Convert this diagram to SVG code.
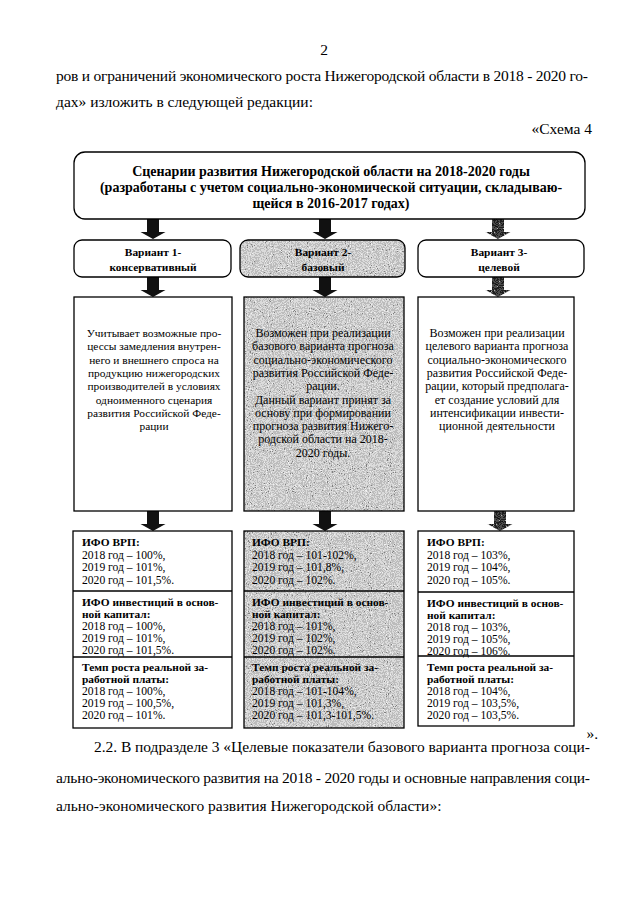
<svg xmlns="http://www.w3.org/2000/svg" width="640" height="905" viewBox="0 0 640 905">
<style>
.pg{font-family:"Liberation Serif","Times New Roman",serif;font-size:15.5px;fill:#000}
.hd{font-family:"Liberation Serif","Times New Roman",serif;font-size:14px;font-weight:bold;fill:#000;text-anchor:middle}
.vt{font-family:"Liberation Serif","Times New Roman",serif;font-size:11.4px;font-weight:bold;fill:#000;text-anchor:middle}
.bt{font-family:"Liberation Serif","Times New Roman",serif;font-size:12px;fill:#000;text-anchor:middle}
.bts{font-family:"Liberation Serif","Times New Roman",serif;font-size:11.4px;fill:#000;text-anchor:middle}
.lt{font-family:"Liberation Serif","Times New Roman",serif;font-size:11.6px;fill:#000}
.lb{font-family:"Liberation Serif","Times New Roman",serif;font-size:11.4px;font-weight:bold;fill:#000}
.box{fill:#fff;stroke:#000;stroke-width:1.3}
.sh{stroke:#000;stroke-width:1.3}
.arr{fill:#111}
</style>
<defs>
<filter id="speckle" x="0" y="0" width="1" height="1" color-interpolation-filters="sRGB">
<feTurbulence type="fractalNoise" baseFrequency="0.95" numOctaves="2" seed="7" result="n"/>
<feColorMatrix in="n" type="saturate" values="0" result="g"/>
<feComponentTransfer in="g" result="d">
<feFuncR type="discrete" tableValues="0.25 0.5 0.74 0.86 0.95 1"/>
<feFuncG type="discrete" tableValues="0.25 0.5 0.74 0.86 0.95 1"/>
<feFuncB type="discrete" tableValues="0.25 0.5 0.74 0.86 0.95 1"/>
<feFuncA type="linear" slope="0" intercept="1"/>
</feComponentTransfer>
<feComposite in="d" in2="SourceGraphic" operator="in"/>
</filter>
<filter id="darkspeckle" x="0" y="0" width="1" height="1" color-interpolation-filters="sRGB">
<feTurbulence type="fractalNoise" baseFrequency="0.95" numOctaves="2" seed="11" result="n"/>
<feColorMatrix in="n" type="saturate" values="0" result="g"/>
<feComponentTransfer in="g" result="d">
<feFuncR type="discrete" tableValues="0 0.05 0.12 0.3 0.7 1"/>
<feFuncG type="discrete" tableValues="0 0.05 0.12 0.3 0.7 1"/>
<feFuncB type="discrete" tableValues="0 0.05 0.12 0.3 0.7 1"/>
<feFuncA type="linear" slope="0" intercept="1"/>
</feComponentTransfer>
<feComposite in="d" in2="SourceGraphic" operator="in"/>
</filter>
<path id="arrow" d="M-6,0 H6 V13 H12.5 L0,20 L-12.5,13 H-6 Z"/>
</defs>

<g id="page-text">
<text class="pg" x="324" y="55" text-anchor="middle">2</text>
<text class="pg" x="56" y="81" textLength="532" lengthAdjust="spacing">ров и ограничений экономического роста Нижегородской области в 2018 - 2020 го-</text>
<text class="pg" x="56" y="107">дах» изложить в следующей редакции:</text>
<text class="pg" x="592" y="134" text-anchor="end">«Схема 4</text>
<text class="pg" x="598" y="739" text-anchor="end">».</text>
<text class="pg" x="94" y="752" textLength="496" lengthAdjust="spacing">2.2. В подразделе 3 «Целевые показатели базового варианта прогноза соци-</text>
<text class="pg" x="56" y="783" textLength="534" lengthAdjust="spacing">ально-экономического развития на 2018 - 2020 годы и основные направления соци-</text>
<text class="pg" x="56" y="811">ально-экономического развития Нижегородской области»:</text>
</g>

<g id="connectors">
<use href="#arrow" class="arr" x="153" y="219"/>
<use href="#arrow" class="arr" x="325" y="219"/>
<use href="#arrow" fill="#fff" filter="url(#darkspeckle)" x="498" y="219"/>
<use href="#arrow" class="arr" x="153" y="277"/>
<use href="#arrow" class="arr" x="325" y="277"/>
<use href="#arrow" fill="#fff" filter="url(#darkspeckle)" x="498" y="277"/>
<use href="#arrow" class="arr" x="153" y="511"/>
<use href="#arrow" class="arr" x="325" y="511"/>
<use href="#arrow" fill="#fff" filter="url(#darkspeckle)" x="500" y="511"/>
</g>

<g id="header">
<rect class="box" x="74" y="152" width="511" height="67" rx="11"/>
<text class="hd" x="331" y="176">Сценарии развития Нижегородской области на 2018-2020 годы</text>
<text class="hd" x="331" y="192">(разработаны с учетом социально-экономической ситуации, складываю-</text>
<text class="hd" x="331" y="208">щейся в 2016-2017 годах)</text>
</g>

<g id="variant1">
<rect class="box" x="74" y="240" width="157" height="37" rx="8"/>
<text class="vt" x="153" y="256">Вариант 1-</text>
<text class="vt" x="153" y="271">консервативный</text>
</g>
<g id="variant2">
<rect x="240" y="240" width="165" height="37" rx="8" fill="#fff" filter="url(#speckle)"/>
<rect x="240" y="240" width="165" height="37" rx="8" fill="none" class="sh"/>
<text class="vt" x="323" y="256">Вариант 2-</text>
<text class="vt" x="323" y="271">базовый</text>
</g>
<g id="variant3">
<rect class="box" x="418" y="240" width="166" height="37" rx="8"/>
<text class="vt" x="499" y="256">Вариант 3-</text>
<text class="vt" x="499" y="271">целевой</text>
</g>

<g id="desc1">
<rect class="box" x="74" y="297" width="158" height="214"/>
<text class="bts" x="154" y="337">Учитывает возможные про-</text>
<text class="bts" x="154" y="350.3">цессы замедления внутрен-</text>
<text class="bts" x="154" y="363.6">него и внешнего спроса на</text>
<text class="bts" x="154" y="376.9">продукцию нижегородских</text>
<text class="bts" x="154" y="390.2">производителей в условиях</text>
<text class="bts" x="154" y="403.5">одноименного сценария</text>
<text class="bts" x="154" y="416.8">развития Российской Феде-</text>
<text class="bts" x="154" y="430.1">рации</text>
</g>
<g id="desc2">
<rect x="244" y="297" width="160" height="214" fill="#fff" filter="url(#speckle)"/>
<rect x="244" y="297" width="160" height="214" fill="none" class="sh"/>
<text class="bt" x="323" y="337">Возможен при реализации</text>
<text class="bt" x="323" y="350.3">базового варианта прогноза</text>
<text class="bt" x="323" y="363.6">социально-экономического</text>
<text class="bt" x="323" y="376.9">развития Российской Феде-</text>
<text class="bt" x="323" y="390.2">рации.</text>
<text class="bt" x="323" y="403.5">Данный вариант принят за</text>
<text class="bt" x="323" y="416.8">основу при формировании</text>
<text class="bt" x="323" y="430.1">прогноза развития Нижего-</text>
<text class="bt" x="323" y="443.4">родской области на 2018-</text>
<text class="bt" x="323" y="456.7">2020 годы.</text>
</g>
<g id="desc3">
<rect class="box" x="418" y="297" width="156" height="214"/>
<text class="bt" x="497" y="337">Возможен при реализации</text>
<text class="bt" x="497" y="350.3">целевого варианта прогноза</text>
<text class="bt" x="497" y="363.6">социально-экономического</text>
<text class="bt" x="497" y="376.9">развития Российской Феде-</text>
<text class="bt" x="497" y="390.2">рации, который предполага-</text>
<text class="bt" x="497" y="403.5">ет создание условий для</text>
<text class="bt" x="497" y="416.8">интенсификации инвести-</text>
<text class="bt" x="497" y="430.1">ционной деятельности</text>
</g>

<g id="indicators1">
<rect class="box" x="73" y="531" width="159" height="197"/>
<line class="sh" x1="73" y1="591" x2="232" y2="591"/>
<line class="sh" x1="73" y1="657" x2="232" y2="657"/>
<text class="lb" x="82" y="546">ИФО ВРП:</text>
<text class="lt" x="82" y="558.5">2018 год – 100%,</text>
<text class="lt" x="82" y="571">2019 год – 101%,</text>
<text class="lt" x="82" y="583.5">2020 год – 101,5%.</text>
<text class="lb" x="82" y="606">ИФО инвестиций в основ-</text>
<text class="lb" x="82" y="618">ной капитал:</text>
<text class="lt" x="82" y="630">2018 год – 100%,</text>
<text class="lt" x="82" y="642">2019 год – 101%,</text>
<text class="lt" x="82" y="654">2020 год – 101,5%.</text>
<text class="lb" x="82" y="671">Темп роста реальной за-</text>
<text class="lb" x="82" y="683">работной платы:</text>
<text class="lt" x="82" y="695">2018 год – 100%,</text>
<text class="lt" x="82" y="707">2019 год – 100,5%,</text>
<text class="lt" x="82" y="719">2020 год – 101%.</text>
</g>
<g id="indicators2">
<rect x="244" y="531" width="160" height="197" fill="#fff" filter="url(#speckle)"/>
<rect x="244" y="531" width="160" height="197" fill="none" class="sh"/>
<line class="sh" x1="244" y1="591" x2="404" y2="591"/>
<line class="sh" x1="244" y1="657" x2="404" y2="657"/>
<text class="lb" x="252" y="546">ИФО ВРП:</text>
<text class="lt" x="252" y="558.5">2018 год – 101-102%,</text>
<text class="lt" x="252" y="571">2019 год – 101,8%,</text>
<text class="lt" x="252" y="583.5">2020 год – 102%.</text>
<text class="lb" x="252" y="606">ИФО инвестиций в основ-</text>
<text class="lb" x="252" y="618">ной капитал:</text>
<text class="lt" x="252" y="630">2018 год – 101%,</text>
<text class="lt" x="252" y="642">2019 год – 102%,</text>
<text class="lt" x="252" y="654">2020 год – 102%.</text>
<text class="lb" x="252" y="671">Темп роста реальной за-</text>
<text class="lb" x="252" y="683">работной платы:</text>
<text class="lt" x="252" y="695">2018 год – 101-104%,</text>
<text class="lt" x="252" y="707">2019 год – 101,3%,</text>
<text class="lt" x="252" y="719">2020 год – 101,3-101,5%.</text>
</g>
<g id="indicators3">
<rect class="box" x="418" y="531" width="156" height="195"/>
<line class="sh" x1="418" y1="592" x2="574" y2="592"/>
<line class="sh" x1="418" y1="656" x2="574" y2="656"/>
<text class="lb" x="427" y="546">ИФО ВРП:</text>
<text class="lt" x="427" y="558.5">2018 год – 103%,</text>
<text class="lt" x="427" y="571">2019 год – 104%,</text>
<text class="lt" x="427" y="583.5">2020 год – 105%.</text>
<text class="lb" x="427" y="607">ИФО инвестиций в основ-</text>
<text class="lb" x="427" y="619">ной капитал:</text>
<text class="lt" x="427" y="631">2018 год – 103%,</text>
<text class="lt" x="427" y="643">2019 год – 105%,</text>
<text class="lt" x="427" y="655">2020 год – 106%.</text>
<text class="lb" x="427" y="671">Темп роста реальной за-</text>
<text class="lb" x="427" y="683">работной платы:</text>
<text class="lt" x="427" y="695">2018 год – 104%,</text>
<text class="lt" x="427" y="707">2019 год – 103,5%,</text>
<text class="lt" x="427" y="719">2020 год – 103,5%.</text>
</g>
</svg>
